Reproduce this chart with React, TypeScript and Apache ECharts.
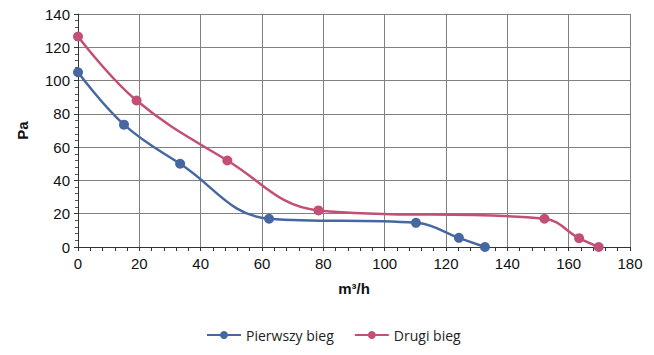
import React, { useEffect, useRef } from "react";
import * as echarts from "echarts";

const seriesNames = ["Pierwszy bieg", "Drugi bieg"];
const firstX = [0, 15, 33.3, 62.3, 110.2, 124.2, 132.7];
const firstY = [105, 73.5, 50, 17, 14.5, 5.5, 0];
const secondX = [0, 19.1, 48.7, 78.4, 152.1, 163.4, 169.8];
const secondY = [126.5, 88, 52, 22, 17, 5.3, 0];
const colors = ["#46679f", "#c44f76"];

export default function App() {
  const ref = useRef<HTMLDivElement>(null);
  useEffect(() => {
    if (!ref.current) return;
    const chart = echarts.init(ref.current, null, { renderer: "svg" });
    const font = "Arial, 'Liberation Sans', sans-serif";
    chart.setOption({
      animation: false,
      grid: { left: 78, right: 24, top: 14, bottom: 108 },
      legend: {
        bottom: 8,
        left: 201,
        itemWidth: 34,
        itemHeight: 10,
        itemGap: 20,
        textStyle: { fontFamily: "'Open Sans', sans-serif", fontSize: 14, color: "#222" },
        data: seriesNames,
      },
      xAxis: {
        type: "value",
        min: 0,
        max: 180,
        interval: 20,
        name: "m³/h",
        nameLocation: "middle",
        nameGap: 34,
        nameTextStyle: { fontFamily: font, fontSize: 15, fontWeight: "bold", color: "#111" },
        axisLine: { show: true, lineStyle: { color: "#333", width: 1 } },
        axisTick: { show: true, inside: false, length: 4, lineStyle: { color: "#333" } },
        minorTick: { show: true, splitNumber: 5, length: 4, lineStyle: { color: "#333" } },
        axisLabel: { fontFamily: font, fontSize: 15, color: "#111", margin: 9 },
        splitLine: { show: true, lineStyle: { color: "#808080", width: 1 } },
      },
      yAxis: {
        type: "value",
        min: 0,
        max: 140,
        interval: 20,
        name: "Pa",
        nameLocation: "middle",
        nameGap: 48,
        nameRotate: 90,
        nameTextStyle: { fontFamily: font, fontSize: 15, fontWeight: "bold", color: "#111" },
        axisLine: { show: true, lineStyle: { color: "#333", width: 1 } },
        axisTick: { show: true, length: 4, lineStyle: { color: "#333" } },
        minorTick: { show: true, splitNumber: 5, length: 3, lineStyle: { color: "#555" } },
        axisLabel: { fontFamily: font, fontSize: 15, color: "#111", margin: 8 },
        splitLine: { show: true, lineStyle: { color: "#808080", width: 1 } },
      },
      series: [
        {
          name: seriesNames[0],
          type: "line",
          smooth: 0.4,
          data: firstX.map((x, i) => [x, firstY[i]]),
          symbol: "circle",
          symbolSize: 10,
          lineStyle: { color: colors[0], width: 2.5 },
          itemStyle: { color: colors[0] },
        },
        {
          name: seriesNames[1],
          type: "line",
          smooth: 0.4,
          data: secondX.map((x, i) => [x, secondY[i]]),
          symbol: "circle",
          symbolSize: 10,
          lineStyle: { color: colors[1], width: 2.5 },
          itemStyle: { color: colors[1] },
        },
      ],
    });
    return () => chart.dispose();
  }, []);
  return <div ref={ref} style={{ width: 654, height: 355, margin: -8 }} />;
}
